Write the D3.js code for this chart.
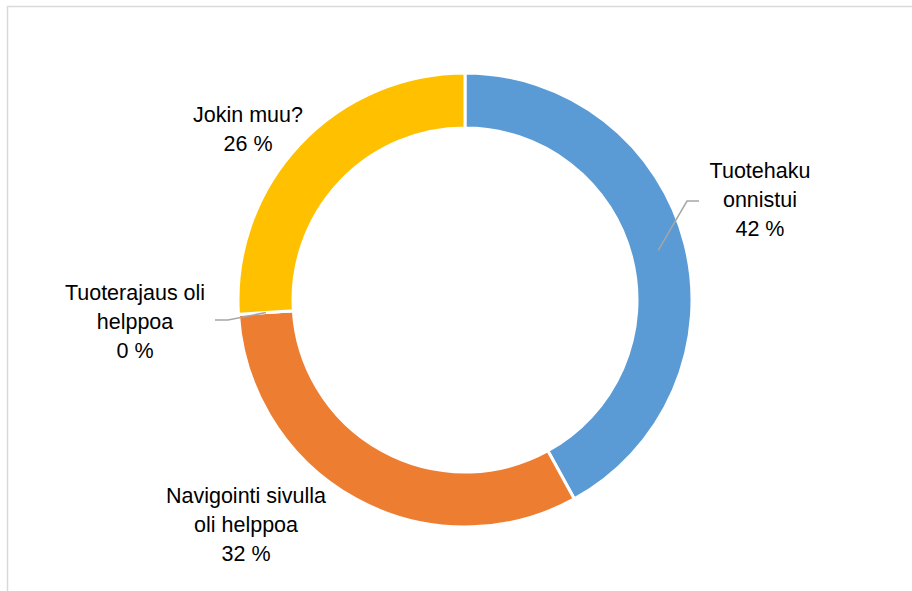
<!DOCTYPE html>
<html>
<head>
<meta charset="utf-8">
<script src="https://cdn.jsdelivr.net/npm/d3@7"></script>
<style>
  html, body { margin: 0; padding: 0; background: #fff; }
  svg { display: block; }
  text { font-family: "Liberation Sans", Arial, sans-serif; fill: #000; }
</style>
</head>
<body>
<svg id="chart" width="912" height="591"></svg>
<script>
// ---- data ----
const categories = ["Tuotehaku onnistui", "Navigointi sivulla oli helppoa", "Tuoterajaus oli helppoa", "Jokin muu?"];
const values = [42, 32, 0, 26];
const colors = ["#5b9bd5", "#ed7d31", "#a5a5a5", "#ffc000"];
const labelLines = [["Tuotehaku", "onnistui"], ["Navigointi sivulla", "oli helppoa"], ["Tuoterajaus oli", "helppoa"], ["Jokin muu?"]];

// ---- layout ----
const W = 912, H = 591;
const cx = 465, cy = 300;
const outerR = 227, innerR = 172;
const svg = d3.select("#chart");

// frame
svg.append("rect").attr("x", 7.5).attr("y", 6.5).attr("width", 1000).attr("height", 1000)
  .attr("fill", "none").attr("stroke", "#d9d9d9").attr("stroke-width", 1.5);

const g = svg.append("g").attr("transform", `translate(${cx},${cy})`);

const total = d3.sum(values);
const pie = d3.pie().sort(null).value(d => d)(values);
const arc = d3.arc().innerRadius(innerR).outerRadius(outerR);

g.selectAll("path.slice").data(pie).join("path")
  .attr("class", "slice")
  .attr("d", arc)
  .attr("fill", (d, i) => colors[i])
  .attr("stroke", "#fff").attr("stroke-width", 3);

// label placement (baseline of first line, relative to center) and leader lines
const labelPos = [
  {dx: 295, by: -122, leader: true, elbow: [222, -99], end: [234, -99]},
  {dx: -219, by: 203, leader: false},
  {dx: -330, by: 0, leader: true, elbow: [-237, 20], end: [-250, 20]},
  {dx: -217, by: -178, leader: false}
];
const fmt = v => d3.format(".0f")(v / total * 100) + " %";
const lineH = 29;
const fs = 21.5;

pie.forEach((d, i) => {
  const p = labelPos[i];
  if (p.leader) {
    const c = arc.centroid(d);
    g.append("polyline")
      .attr("points", [c, p.elbow, p.end].map(q => q.join(",")).join(" "))
      .attr("fill", "none").attr("stroke", "#a6a6a6").attr("stroke-width", 1.5);
  }
  const lines = labelLines[i].concat([fmt(values[i])]);
  const t = g.append("text").attr("text-anchor", "middle").attr("font-size", fs);
  lines.forEach((ln, k) => {
    t.append("tspan").attr("x", p.dx).attr("y", p.by + k * lineH).text(ln);
  });
});
</script>
</body>
</html>
